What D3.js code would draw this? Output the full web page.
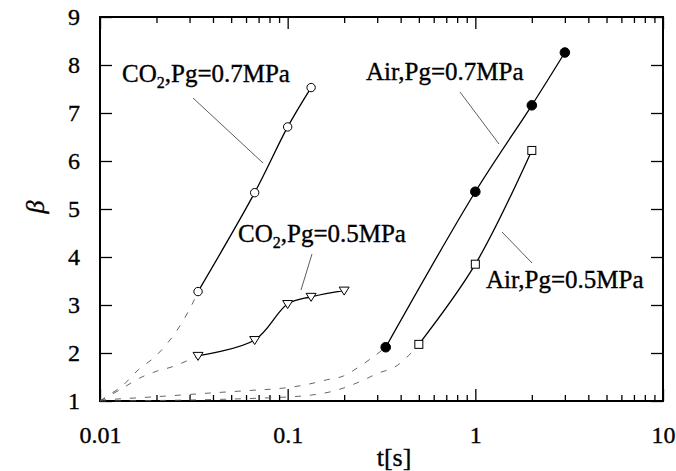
<!DOCTYPE html>
<html>
<head>
<meta charset="utf-8">
<script src="https://cdn.jsdelivr.net/npm/d3@7"></script>
<style>
  html, body { margin: 0; padding: 0; background: #fff; }
  svg { display: block; }
  text { font-family: "Liberation Serif", "Times New Roman", serif; fill: #000; stroke: #000; stroke-width: 0.35px; }
</style>
</head>
<body>
<svg id="chart" width="676" height="471"></svg>
<script>
// ---- data ----
const xTickValues = [0.01, 0.1, 1, 10];
const xTickLabels = ["0.01", "0.1", "1", "10"];
const yTickValues = [1, 2, 3, 4, 5, 6, 7, 8, 9];
const yTickLabels = ["1", "2", "3", "4", "5", "6", "7", "8", "9"];

// measured points
const co2_07_t = [0.0333, 0.0667, 0.1, 0.1333];
const co2_07_b = [3.28, 5.34, 6.71, 7.53];
const co2_05_t = [0.0333, 0.0667, 0.1, 0.1333, 0.2];
const co2_05_b = [1.94, 2.27, 3.02, 3.17, 3.30];
const air_07_t = [0.333, 1, 2, 3];
const air_07_b = [2.12, 5.36, 7.16, 8.26];
const air_05_t = [0.5, 1, 2];
const air_05_b = [2.18, 3.85, 6.22];

// dashed extrapolation curves
const co2_07_dash_t = [0.01, 0.0108, 0.0131, 0.016, 0.0196, 0.0236, 0.0272, 0.0308, 0.0333];
const co2_07_dash_b = [1.0, 1.09, 1.31, 1.65, 1.92, 2.27, 2.62, 3.0, 3.28];
const co2_05_dash_t = [0.01, 0.0131, 0.0163, 0.02, 0.0246, 0.0333];
const co2_05_dash_b = [1.0, 1.26, 1.48, 1.62, 1.72, 1.94];
const air_07_dash_t = [0.01, 0.02, 0.04, 0.0697, 0.0845, 0.105, 0.129, 0.161, 0.198, 0.248, 0.295, 0.333];
const air_07_dash_b = [1.02, 1.09, 1.17, 1.23, 1.25, 1.29, 1.35, 1.44, 1.52, 1.75, 1.96, 2.12];
const air_05_dash_t = [0.01, 0.02, 0.05, 0.107, 0.134, 0.164, 0.202, 0.248, 0.304, 0.373, 0.458, 0.5];
const air_05_dash_b = [1.0, 1.01, 1.04, 1.09, 1.125, 1.18, 1.28, 1.42, 1.58, 1.71, 2.01, 2.18];

const labelTexts = [
  ["CO", "2", ",Pg=0.7MPa"],
  ["CO", "2", ",Pg=0.5MPa"],
  ["Air,Pg=0.7MPa"],
  ["Air,Pg=0.5MPa"]
];

// ---- drawing ----
const svg = d3.select("#chart");
const L = 100, R = 663, T = 17, B = 401;
const x = d3.scaleLog().domain([0.01, 10]).range([L, R]);
const y = d3.scaleLinear().domain([1, 9]).range([B, T]);

const zip = (a, b) => a.map((v, i) => [v, b[i]]);

// axes with inward ticks
const minorX = [];
[0.01, 0.1, 1].forEach(d => { for (let k = 2; k <= 9; k++) minorX.push(d * k); });

const gBottom = svg.append("g").attr("transform", `translate(0,${B})`)
  .call(d3.axisBottom(x).tickValues(xTickValues).tickSizeInner(-12).tickSizeOuter(0)
    .tickFormat((d, i) => xTickLabels[i]).tickPadding(25));
gBottom.append("g").call(d3.axisBottom(x).tickValues(minorX).tickSizeInner(-6).tickSizeOuter(0).tickFormat(""));
const gTop = svg.append("g").attr("transform", `translate(0,${T})`)
  .call(d3.axisTop(x).tickValues(xTickValues).tickSizeInner(-12).tickSizeOuter(0).tickFormat(""));
gTop.append("g").call(d3.axisTop(x).tickValues(minorX).tickSizeInner(-6).tickSizeOuter(0).tickFormat(""));
const gLeft = svg.append("g").attr("transform", `translate(${L},0)`)
  .call(d3.axisLeft(y).tickValues(yTickValues).tickSizeInner(-12).tickSizeOuter(0)
    .tickFormat((d, i) => yTickLabels[i]).tickPadding(20));
const gRight = svg.append("g").attr("transform", `translate(${R},0)`)
  .call(d3.axisRight(y).tickValues(yTickValues).tickSizeInner(-12).tickSizeOuter(0).tickFormat(""));

svg.selectAll(".domain").remove();
svg.selectAll(".tick line").attr("stroke", "#000").attr("stroke-width", 1.3);
svg.selectAll(".tick text").style("font-family", "'Liberation Serif', serif").style("font-size", "24px").attr("fill", "#000");
gBottom.selectAll(".tick text").attr("dy", "0.71em");

// frame
svg.append("rect").attr("x", L).attr("y", T).attr("width", R - L).attr("height", B - T)
  .attr("fill", "none").attr("stroke", "#000").attr("stroke-width", 2);

// axis titles
svg.append("text").attr("x", 394).attr("y", 466).attr("text-anchor", "middle")
  .style("font-size", "26px").text("t[s]");
svg.append("text").attr("transform", "translate(44,207) rotate(-90)").attr("text-anchor", "middle")
  .style("font-size", "26px").style("font-style", "italic").text("β");

// dashed curves
const dashLine = d3.line().x(d => x(d[0])).y(d => y(d[1])).curve(d3.curveCatmullRom.alpha(0.5));
[[co2_07_dash_t, co2_07_dash_b], [co2_05_dash_t, co2_05_dash_b],
 [air_07_dash_t, air_07_dash_b], [air_05_dash_t, air_05_dash_b]].forEach(([t, b]) => {
  svg.append("path").attr("d", dashLine(zip(t, b))).attr("fill", "none")
    .attr("stroke", "#555").attr("stroke-width", 0.9).attr("stroke-dasharray", "6,9");
});

// solid curves
const solid = d3.line().x(d => x(d[0])).y(d => y(d[1])).curve(d3.curveCatmullRom.alpha(0.5));
const series = [
  { t: co2_07_t, b: co2_07_b, m: "circleOpen" },
  { t: co2_05_t, b: co2_05_b, m: "triangle" },
  { t: air_07_t, b: air_07_b, m: "circleFilled" },
  { t: air_05_t, b: air_05_b, m: "square" }
];
series.forEach(s => {
  svg.append("path").attr("d", solid(zip(s.t, s.b))).attr("fill", "none")
    .attr("stroke", "#000").attr("stroke-width", 1.3);
});
series.forEach(s => {
  const pts = zip(s.t, s.b);
  const g = svg.append("g");
  if (s.m === "circleOpen" || s.m === "circleFilled") {
    g.selectAll("circle").data(pts).join("circle")
      .attr("cx", d => x(d[0])).attr("cy", d => y(d[1]))
      .attr("r", s.m === "circleOpen" ? 4.2 : 4.8)
      .attr("fill", s.m === "circleOpen" ? "#fff" : "#000")
      .attr("stroke", "#000").attr("stroke-width", 1);
  } else if (s.m === "square") {
    g.selectAll("rect").data(pts).join("rect")
      .attr("x", d => x(d[0]) - 4).attr("y", d => y(d[1]) - 4)
      .attr("width", 8).attr("height", 8)
      .attr("fill", "#fff").attr("stroke", "#000").attr("stroke-width", 1);
  } else {
    g.selectAll("path").data(pts).join("path")
      .attr("d", d => {
        const cx = x(d[0]), cy = y(d[1]);
        return `M${cx - 5},${cy - 3.5}L${cx + 5},${cy - 3.5}L${cx},${cy + 4.5}Z`;
      })
      .attr("fill", "#fff").attr("stroke", "#000").attr("stroke-width", 1);
  }
});

// leader lines
const leaders = [
  [193, 98, 263, 163],
  [312, 254, 301, 290],
  [460, 92, 499, 144],
  [502, 232, 532, 263]
];
leaders.forEach(l => {
  svg.append("line").attr("x1", l[0]).attr("y1", l[1]).attr("x2", l[2]).attr("y2", l[3])
    .attr("stroke", "#333").attr("stroke-width", 0.8);
});

// labels
const labelPos = [[122, 82], [238, 242], [366, 80], [486, 288]];
labelTexts.forEach((parts, i) => {
  const t = svg.append("text").attr("x", labelPos[i][0]).attr("y", labelPos[i][1])
    .style("font-size", "25px");
  if (parts.length === 3) {
    t.append("tspan").text(parts[0]);
    t.append("tspan").attr("dy", 6).style("font-size", "16px").text(parts[1]);
    t.append("tspan").attr("dy", -6).text(parts[2]);
  } else {
    t.text(parts[0]);
  }
});
</script>
</body>
</html>
